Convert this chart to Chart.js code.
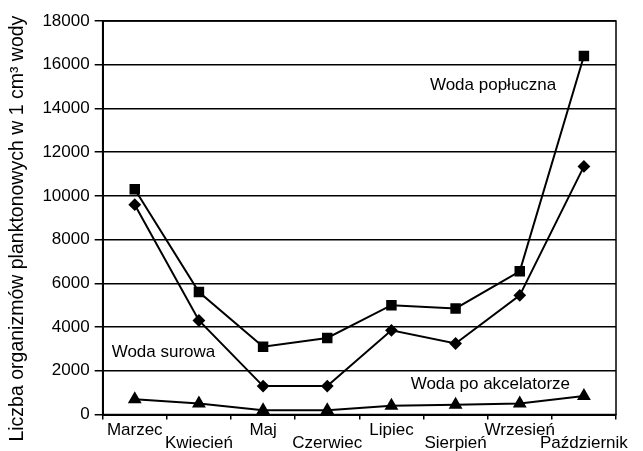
<!DOCTYPE html>
<html>
<head>
<meta charset="utf-8">
<script src="https://cdn.jsdelivr.net/npm/chart.js"></script>
<style>
  html, body { margin: 0; padding: 0; background: #fff; }
  canvas { display: block; }
</style>
</head>
<body>
<canvas id="chart" width="643" height="451"></canvas>
<script>
const months = ["Marzec", "Kwiecień", "Maj", "Czerwiec", "Lipiec", "Sierpień", "Wrzesień", "Październik"];
const wodaPopluczna = [10300, 5600, 3100, 3500, 5000, 4850, 6550, 16400];
const wodaSurowa = [9600, 4300, 1300, 1300, 3850, 3250, 5450, 11350];
const wodaPoAkcelatorze = [700, 500, 200, 200, 400, 450, 500, 850];
const yTicks = [0, 2000, 4000, 6000, 8000, 10000, 12000, 14000, 16000, 18000];

// labels placed in data coordinates: [category index, value, text]
const notes = [
  [4.6, 15050, "Woda popłuczna"],
  [-0.36, 2850, "Woda surowa"],
  [4.3, 1380, "Woda po akcelatorze"],
];

const fontFamily = "'Liberation Sans', Arial, sans-serif";

// staggered month labels: even on top row, odd on bottom row
const xLabels = months.map((m, i) => (i % 2 === 0 ? [m, ""] : ["", m]));

const notesPlugin = {
  id: "notes",
  afterDatasetsDraw(chart) {
    const { ctx, chartArea, scales } = chart;
    ctx.save();
    // frame
    ctx.strokeStyle = "#000";
    ctx.lineWidth = 1.5;
    ctx.strokeRect(chartArea.left, chartArea.top, chartArea.right - chartArea.left, chartArea.bottom - chartArea.top);
    ctx.font = "17px " + fontFamily;
    ctx.textAlign = "left";
    ctx.textBaseline = "middle";
    notes.forEach(([xi, v, text]) => {
      const x0 = scales.x.getPixelForValue(0);
      const x1 = scales.x.getPixelForValue(1);
      const x = x0 + (x1 - x0) * xi;
      const y = scales.y.getPixelForValue(v);
      const w = ctx.measureText(text).width;
      ctx.fillStyle = "#fff";
      ctx.fillRect(x - 2, y - 9, w + 4, 18);
      ctx.fillStyle = "#000";
      ctx.fillText(text, x, y);
    });
    ctx.restore();
  },
};

const seriesStyle = (data, pointStyle, radius) => ({
  data,
  borderColor: "#000",
  backgroundColor: "#000",
  borderWidth: 2,
  pointStyle,
  pointRadius: radius,
  pointBackgroundColor: "#000",
  pointBorderColor: "#000",
  tension: 0,
});

new Chart(document.getElementById("chart").getContext("2d"), {
  type: "line",
  data: {
    labels: xLabels,
    datasets: [
      Object.assign({ label: "Woda popłuczna" }, seriesStyle(wodaPopluczna, "rect", 6)),
      Object.assign({ label: "Woda surowa" }, seriesStyle(wodaSurowa, "rectRot", 5)),
      Object.assign({ label: "Woda po akcelatorze" }, seriesStyle(wodaPoAkcelatorze, "triangle", 6)),
    ],
  },
  options: {
    responsive: false,
    animation: false,
    layout: { padding: { top: 21, right: 27, bottom: -3, left: 6 } },
    plugins: {
      legend: { display: false },
      tooltip: { enabled: false },
    },
    scales: {
      x: {
        offset: true,
        grid: { display: true, offset: true, drawOnChartArea: false, color: "#000", lineWidth: 1.5, tickLength: 5 },
        border: { color: "#000", width: 2 },
        ticks: {
          color: "#000",
          autoSkip: false,
          maxRotation: 0,
          padding: 5,
          font: { family: fontFamily, size: 17, lineHeight: 0.72 },
        },
      },
      y: {
        min: 0,
        max: 18000,
        afterBuildTicks(scale) {
          scale.ticks = yTicks.map((v) => ({ value: v }));
        },
        grid: { color: "#000", lineWidth: 1.5, tickLength: 8 },
        border: { color: "#000", width: 2 },
        ticks: {
          color: "#000",
          padding: 5,
          font: { family: fontFamily, size: 17 },
          callback: (v) => String(v),
        },
        title: {
          display: true,
          // trailing spaces nudge the rotated title down a little, as in the original
          text: "Liczba organizmów planktonowych w 1 cm³ wody\u00a0\u00a0\u00a0\u00a0",
          color: "#000",
          font: { family: fontFamily, size: 19.5 },
          padding: { top: 0, bottom: 8 },
        },
      },
    },
  },
  plugins: [notesPlugin],
});
</script>
</body>
</html>
